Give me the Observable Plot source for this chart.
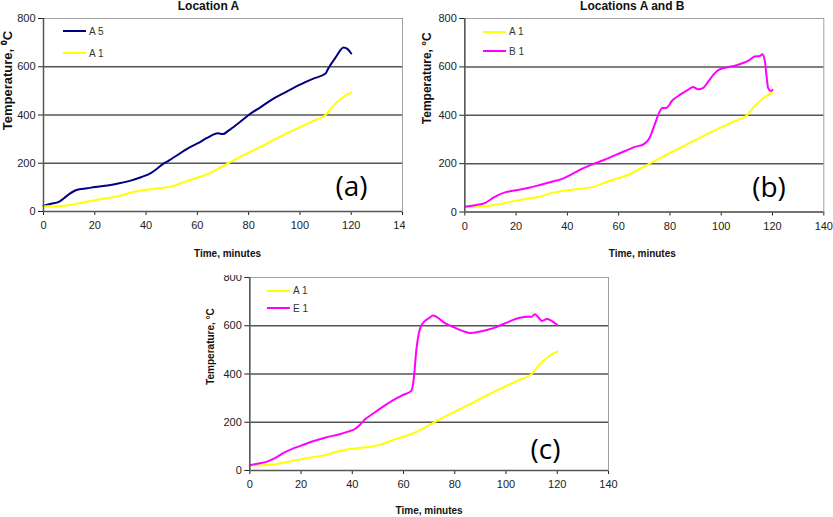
<!DOCTYPE html>
<html>
<head>
<meta charset="utf-8">
<script src="https://cdn.jsdelivr.net/npm/d3@7"></script>
<script src="https://cdn.jsdelivr.net/npm/@observablehq/plot@0.6"></script>
<style>
  body { margin: 0; background: #fff; }
  #page { position: relative; width: 833px; height: 517px; overflow: hidden; font-family: "Liberation Sans", Arial, sans-serif; }
  .panel { position: absolute; overflow: hidden; }
  .key { position: absolute; height: 12px; display: flex; align-items: center; font-size: 10px; color: #333; white-space: nowrap; }
  .key .swatch { display: inline-block; width: 23px; height: 2px; margin-right: 3px; }
</style>
</head>
<body>
<div id="page">
  <div class="panel" id="pa" style="left:0;top:0;width:405px;height:260px"></div>
  <div class="panel" id="pb" style="left:415px;top:0;width:418px;height:260px"></div>
  <div class="panel" id="pc" style="left:190px;top:275px;width:443px;height:242px"></div>
</div>
<script>
// axis ticks
const timeTicks = [0, 20, 40, 60, 80, 100, 120, 140];
const tempTicks = [0, 200, 400, 600, 800];
const gridTemps = [200, 400, 600];

// [time in minutes, temperature in C]
const a1 = [[0,22],[5,22],[8,24],[12,30],[16,38],[20,47],[25,56],[30,65],[33,76],[36,83],[40,90],[45,96],
  [50,104],[53,115],[56,127],[60,140],[64,155],[68,177],[72,200],[76,222],[80,244],[85,270],[90,298],
  [95,325],[100,350],[105,375],[110,400],[113,438],[116,467],[118,482],[120,493]];

const a5 = [[0,24],[3,32],[6,40],[8,55],[10,72],[12,85],[14,92],[17,96],[20,102],[25,108],[30,118],[34,128],
  [38,142],[42,160],[44,175],[46,192],[49,212],[52,232],[56,260],[60,282],[64,306],[68,324],[70,321],
  [72,334],[76,366],[80,400],[85,435],[90,470],[95,498],[100,526],[105,550],[110,572],[111,592],
  [114,640],[117,680],[118.5,674],[120,655]];

const b1 = [[0,22],[4,28],[8,38],[11,58],[13,70],[16,82],[20,90],[25,100],[30,114],[35,128],[38,137],
  [42,158],[46,180],[50,198],[54,214],[58,232],[62,250],[66,268],[70,282],[72,305],[74,360],[76,415],
  [77,430],[78.5,430],[81,462],[84,485],[87,505],[89,517],[91,507],[93,513],[95,540],[97,568],[99,588],
  [102,597],[106,607],[109,618],[111,628],[113,643],[115,645],[116,652],[117,625],[117.8,550],
  [118.3,512],[119.3,500],[120,505]];

const e1 = [[0,22],[3,28],[7,38],[10,52],[13,72],[17,92],[20,103],[25,122],[30,138],[35,150],[38,160],
  [41,172],[43,190],[45,212],[48,235],[52,265],[56,292],[60,314],[63,330],[64,380],[65,500],[66,570],
  [67.5,610],[70,632],[71.5,642],[73,636],[76,612],[80,592],[85,572],[86,570],[90,576],[95,590],
  [100,612],[105,632],[109,637],[110,637],[111.2,648],[112.5,636],[114,620],[116,628],[117.5,622],[120,603]];

const NAVY = "#000080", YELLOW = "#ffff00", MAGENTA = "#ff00ff";

const rows = pts => pts.map(([t, v]) => ({t, v}));

function drawPanel(o) {
  const label = (txt, opts) => Plot.text([txt], {text: d => d, fill: "#111", textAnchor: "middle", lineAnchor: "middle", ...opts});
  const marks = [
    Plot.frame({stroke: "#a0a0a0", strokeWidth: 1}),
    Plot.ruleY(gridTemps, {stroke: "#555", strokeWidth: 1.5}),
    ...o.series.map(s => Plot.line(rows(s.values), {x: "t", y: "v", stroke: s.color, strokeWidth: 2, curve: "monotone-x"})),
    Plot.ruleX([0], {stroke: "#555", strokeWidth: 1.5}),
    Plot.ruleY([0], {stroke: "#555", strokeWidth: 1.5}),
    label(o.yLabel, {frameAnchor: "left", rotate: -90, dx: o.yLabelDx, dy: o.yLabelDy, fontSize: o.yLabelSize, fontWeight: "bold"}),
    label("Time, minutes", {frameAnchor: "bottom", dx: o.xLabelDx, dy: o.xLabelDy, fontSize: 10, fontWeight: "bold"}),
    label(o.tag, {frameAnchor: "bottom-right", textAnchor: "end", dx: o.tagDx, dy: o.tagDy, fontSize: 28, fontFamily: "Open Sans", fill: "#000"})
  ];
  if (o.title) {
    marks.push(label(o.title, {frameAnchor: "top", lineAnchor: "bottom", dx: o.titleDx, dy: -8.5, fontSize: 12, fontWeight: "bold"}));
  }
  const chart = Plot.plot({
    width: o.width,
    height: o.height,
    marginLeft: o.margin[3],
    marginRight: o.margin[1],
    marginTop: o.margin[0],
    marginBottom: o.margin[2],
    style: {fontFamily: "Liberation Sans, Arial, sans-serif", fontSize: "11px", color: "#222", background: "white", overflow: "hidden"},
    x: {domain: [0, 140], ticks: timeTicks, tickSize: 4, tickPadding: 6, label: null},
    y: {domain: [0, 800], ticks: tempTicks, tickSize: 5, tickPadding: 3, label: null},
    marks
  });
  document.getElementById(o.el).appendChild(chart);

  // legend, drawn as html in the corner of the plot
  o.series.slice().sort((p, q) => p.legendRow - q.legendRow).forEach((s, i) => {
    const key = document.createElement("div");
    key.className = "key";
    key.style.left = o.legendX + "px";
    key.style.top = (o.legendY[i] - 6) + "px";
    key.innerHTML = `<span class="swatch" style="background:${s.color}"></span>${s.name}`;
    document.getElementById("page").appendChild(key);
  });
}

drawPanel({
  el: "pa", width: 405, height: 260, margin: [18, 3, 49, 43],
  series: [
    {name: "A 5", values: a5, color: NAVY, legendRow: 0},
    {name: "A 1", values: a1, color: YELLOW, legendRow: 1}
  ],
  title: "Location A", titleDx: -14.5,
  yLabel: "Temperature, \u2070C", yLabelSize: 13, yLabelDx: -36, yLabelDy: -34.5,
  xLabelDx: 4.5, xLabelDy: 42,
  tag: "(a)", tagDx: -35, tagDy: -24,
  legendX: 63, legendY: [31, 53]
});

drawPanel({
  el: "pb", width: 418, height: 260, margin: [18, 9.7, 48.5, 49.3],
  series: [
    {name: "A 1", values: a1, color: YELLOW, legendRow: 0},
    {name: "B 1", values: b1, color: MAGENTA, legendRow: 1}
  ],
  title: "Locations A and B", titleDx: -12,
  yLabel: "Temperature, \u00b0C", yLabelSize: 12, yLabelDx: -38, yLabelDy: -37,
  xLabelDx: -2, xLabelDy: 42,
  tag: "(b)", tagDx: -38, tagDy: -24,
  legendX: 483, legendY: [31.7, 51]
});

drawPanel({
  el: "pc", width: 443, height: 242, margin: [2, 25, 47, 59.3],
  series: [
    {name: "A 1", values: a1, color: YELLOW, legendRow: 0},
    {name: "E 1", values: e1, color: MAGENTA, legendRow: 1}
  ],
  title: null,
  yLabel: "Temperature, \u00b0C", yLabelSize: 10, yLabelDx: -39, yLabelDy: -27.5,
  xLabelDx: 0, xLabelDy: 40,
  tag: "(c)", tagDx: -48, tagDy: -20,
  legendX: 267, legendY: [290.7, 308.3]
});
</script>
</body>
</html>
